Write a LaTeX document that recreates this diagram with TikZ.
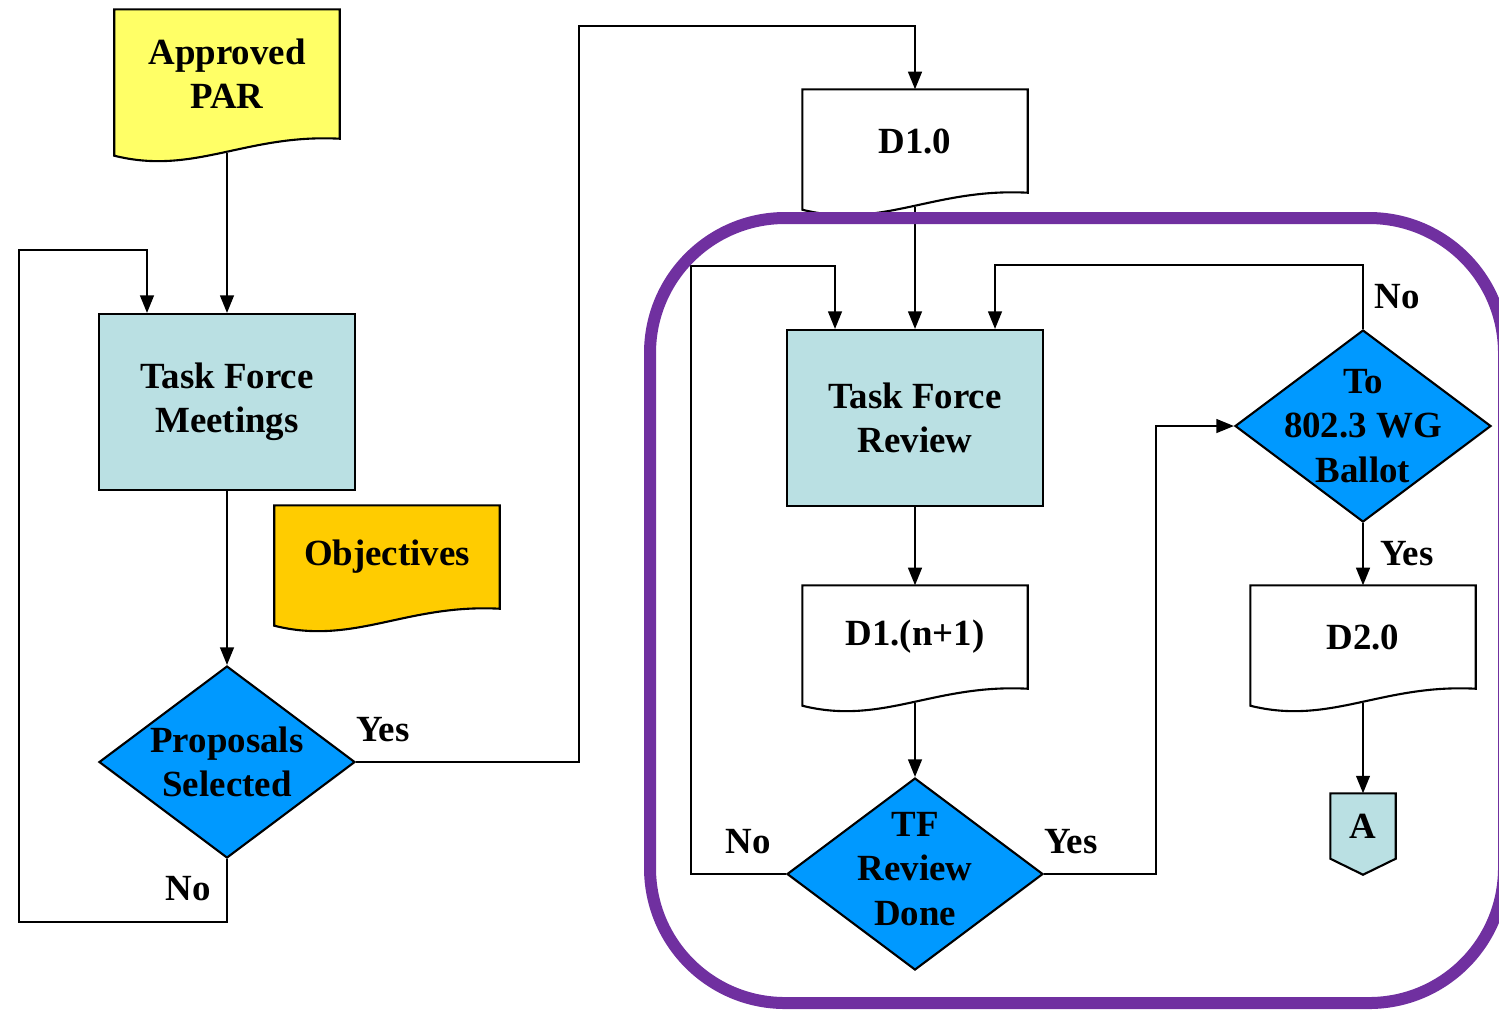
\documentclass[tikz,border=0pt]{standalone}
\usepackage{fontspec}
\setmainfont{Liberation Serif}
\usetikzlibrary{shapes.geometric,arrows.meta,positioning}
\definecolor{colorpar}{HTML}{FFFF66}
\definecolor{colorobj}{HTML}{FFCC00}
\definecolor{colortf}{HTML}{BAE0E3}
\definecolor{colordec}{HTML}{0099FF}
\definecolor{colorgrp}{HTML}{7030A0}
\tikzset{
  outl/.style={draw=black, line width=0.6pt},
  proc/.style={outl, fill=colortf, minimum width=2.56cm, minimum height=1.76cm, align=center},
  dec/.style={outl, diamond, fill=colordec, minimum width=2.56cm, minimum height=1.92cm, inner sep=0pt},
  dtxt/.style={align=center, inner sep=0pt},
  doc/.style={minimum width=2.24cm, minimum height=1.02cm, inner sep=0pt, align=center},
  conbox/.style={minimum width=0.64cm, minimum height=0.64cm, inner sep=0pt},
  lbl/.style={inner sep=1pt},
  edge/.style={black, line width=0.6pt, -{Triangle[length=5pt,width=3.9pt]}},
  grp/.style={colorgrp, line width=0.12cm, rounded corners=1.35cm}
}
\pgfdeclarelayer{shapelayer}
\pgfsetlayers{shapelayer,main}
% document box: wavy bottom, midpoint of the wave is (#1-w)
\newcommand{\docshape}[2]{%
  \begin{pgfonlayer}{shapelayer}
  \filldraw[outl, fill=#2] (#1.north west) -- (#1.north east) -- (#1.south east)
    .. controls +(-0.94,0.05) and +(0.80,-0.20) .. ([yshift=-0.17cm]#1.south west)
    coordinate[pos=0.5] (#1-w) -- cycle;
  \end{pgfonlayer}}

\begin{document}
\begin{tikzpicture}[font=\fontsize{10.5}{12.6}\selectfont\bfseries]
\useasboundingbox (0,0) rectangle (14.99,-10.12);

% left part
\node[doc, minimum height=1.28cm] (par) at (2.27,-0.74) {Approved\\PAR};
\docshape{par}{colorpar}
\node[proc] (tfm) at (2.27,-4.02) {Task Force\\Meetings};
\node[doc] (obj) at (3.87,-5.57) {Objectives};
\docshape{obj}{colorobj}
\node[dec, label={[dtxt]center:{Proposals\\Selected}}] (sel) at (2.27,-7.62) {};

% right part
\node[doc] (d10) at (9.15,-1.41) {D1.0};
\docshape{d10}{white}
\node[proc] (tfr) at (9.15,-4.18) {Task Force\\Review};
\node[doc] (dn1) at (9.15,-6.37) {D1.(n+1)};
\docshape{dn1}{white}
\node[dec, label={[dtxt, yshift=0.05cm]center:{TF\\Review\\Done}}] (done) at (9.15,-8.74) {};
\node[dec, label={[dtxt]center:{To\\802.3 WG\\Ballot}}] (ballot) at (13.63,-4.26) {};
\node[doc] (d20) at (13.63,-6.37) {D2.0};
\docshape{d20}{white}
\node[conbox] (conA) at (13.63,-8.26) {A};
\begin{pgfonlayer}{shapelayer}
\filldraw[outl, fill=colortf] (conA.north west) -- (conA.north east) -- (conA.south east)
  -- ([yshift=-0.16cm]conA.south) -- (conA.south west) -- cycle;
\end{pgfonlayer}

% labels
\node[lbl] (yes1) at (3.83,-7.30) {Yes};
\node[lbl] (no1) at (1.88,-8.89) {No};
\node[lbl] (no2) at (7.48,-8.42) {No};
\node[lbl] (yes2) at (10.71,-8.42) {Yes};
\node[lbl] (no3) at (13.97,-2.97) {No};
\node[lbl] (yes3) at (14.07,-5.54) {Yes};

% connectors
\draw[edge] (tfm.north |- par-w) -- (tfm.north);
\draw[edge] (tfm.south) -- (sel.north);
\draw[edge] (sel.south) -- ++(0,-0.63) -| (0.19,-2.50) -| ([xshift=-0.80cm]tfm.north);
\draw[edge] (sel.east) -| (5.79,-0.26) -| (d10.north);
\draw[edge] (tfr.north |- d10-w) -- (tfr.north);
\draw[edge] (tfr.south) -- (dn1.north);
\draw[edge] (done.north |- dn1-w) -- (done.north);
\draw[edge] (done.west) -| (6.91,-2.66) -| ([xshift=-0.80cm]tfr.north);
\draw[edge] (done.east) -- ++(1.12,0) |- (ballot.west);
\draw[edge] (ballot.north) -- ++(0,0.64) -| ([xshift=0.80cm]tfr.north);
\draw[edge] (ballot.south) -- (d20.north);
\draw[edge] (conA.north |- d20-w) -- (conA.north);

% group frame
\draw[grp] (6.50,-2.18) rectangle (15.04,-10.03);
\end{tikzpicture}
\end{document}
